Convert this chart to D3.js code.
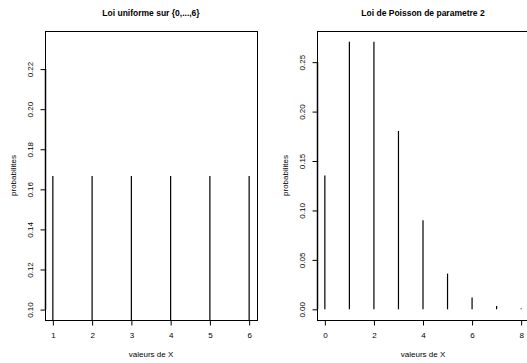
<!DOCTYPE html>
<html>
<head>
<meta charset="utf-8">
<script src="https://cdn.jsdelivr.net/npm/d3@7"></script>
<style>
  body { margin: 0; background: #fff; }
  text { font-family: "Liberation Sans", Arial, sans-serif; fill: #000; }
</style>
</head>
<body>
<div id="chart"></div>
<script>
// data
const uniformX = [1, 2, 3, 4, 5, 6];
const uniformP = [1/6, 1/6, 1/6, 1/6, 1/6, 1/6];
const uniformYTicks = [0.10, 0.12, 0.14, 0.16, 0.18, 0.20, 0.22];
const uniformXTicks = [1, 2, 3, 4, 5, 6];

const poissonX = [0, 1, 2, 3, 4, 5, 6, 7, 8];
const poissonP = [0.1353, 0.2707, 0.2707, 0.1804, 0.0902, 0.0361, 0.0120, 0.0034, 0.0009];
const poissonYTicks = [0.00, 0.05, 0.10, 0.15, 0.20, 0.25];
const poissonXTicks = [0, 2, 4, 6, 8];

const svg = d3.select("#chart")
    .append("svg")
        .attr("width", 527)
        .attr("height", 363);

function drawPanel(opts) {
    const { left, right, top, bottom, xDomain, yDomain, xs, ps, xTicks, yTicks, title, yFmt, clipId } = opts;

    const x = d3.scaleLinear().domain(xDomain).range([left, right]);
    const y = d3.scaleLinear().domain(yDomain).range([bottom, top]);

    svg.append("clipPath").attr("id", clipId)
        .append("rect")
            .attr("x", left).attr("y", top)
            .attr("width", right - left).attr("height", bottom - top);

    // bars (type = "h")
    svg.append("g")
        .attr("clip-path", `url(#${clipId})`)
        .selectAll("line")
        .data(xs.map((v, i) => [v, ps[i]]))
        .enter()
        .append("line")
            .attr("x1", d => x(d[0]))
            .attr("x2", d => x(d[0]))
            .attr("y1", y(0))
            .attr("y2", d => y(d[1]))
            .attr("stroke", "#000")
            .attr("stroke-width", 1.2);

    // box
    svg.append("rect")
        .attr("x", left + 0.5).attr("y", top + 0.5)
        .attr("width", right - left).attr("height", bottom - top)
        .attr("fill", "none")
        .attr("stroke", "#000")
        .attr("stroke-width", 1);

    // x axis
    const gx = svg.append("g")
        .attr("transform", `translate(0, ${bottom + 0.5})`)
        .call(d3.axisBottom(x).tickValues(xTicks).tickSize(5).tickSizeOuter(0).tickFormat(d3.format("d")));
    gx.select(".domain").remove();
    gx.selectAll("text").attr("font-size", 8).attr("dy", "1.2em").style("font-family", "Liberation Sans, Arial, sans-serif");
    gx.append("line")
        .attr("x1", x(xTicks[0])).attr("x2", x(xTicks[xTicks.length - 1]))
        .attr("stroke", "#000");

    // y axis
    const gy = svg.append("g")
        .attr("transform", `translate(${left + 0.5}, 0)`)
        .call(d3.axisLeft(y).tickValues(yTicks).tickSize(5).tickSizeOuter(0).tickFormat(yFmt));
    gy.select(".domain").remove();
    gy.selectAll(".tick text")
        .attr("font-size", 8)
        .attr("x", null)
        .attr("text-anchor", "middle")
        .attr("transform", "translate(-15, 0) rotate(-90)")
        .attr("dy", "0.32em")
        .style("font-family", "Liberation Sans, Arial, sans-serif");
    gy.append("line")
        .attr("y1", y(yTicks[0])).attr("y2", y(yTicks[yTicks.length - 1]))
        .attr("stroke", "#000")
        .attr("stroke-width", 1.5);

    const cx = (left + right) / 2;

    svg.append("text")
        .attr("x", cx).attr("y", 16)
        .attr("text-anchor", "middle")
        .attr("font-size", 8.5)
        .attr("font-weight", "bold")
        .text(title);

    svg.append("text")
        .attr("x", cx).attr("y", 357)
        .attr("text-anchor", "middle")
        .attr("font-size", 8)
        .text("valeurs de X");

    svg.append("text")
        .attr("transform", `translate(${left - 29.5}, ${(top + bottom) / 2}) rotate(-90)`)
        .attr("text-anchor", "middle")
        .attr("font-size", 8)
        .text("probabilites");
}

drawPanel({
    left: 45, right: 257, top: 31, bottom: 320,
    xDomain: [0.8, 6.2], yDomain: [0.0948, 0.239],
    xs: uniformX, ps: uniformP,
    xTicks: uniformXTicks, yTicks: uniformYTicks,
    title: "Loi uniforme sur {0,...,6}",
    yFmt: d3.format(".2f"),
    clipId: "clipA"
});

drawPanel({
    left: 317, right: 529, top: 31, bottom: 320,
    xDomain: [-0.32, 8.32], yDomain: [-0.0108, 0.2815],
    xs: poissonX, ps: poissonP,
    xTicks: poissonXTicks, yTicks: poissonYTicks,
    title: "Loi de Poisson de parametre 2",
    yFmt: d3.format(".2f"),
    clipId: "clipB"
});
</script>
</body>
</html>
